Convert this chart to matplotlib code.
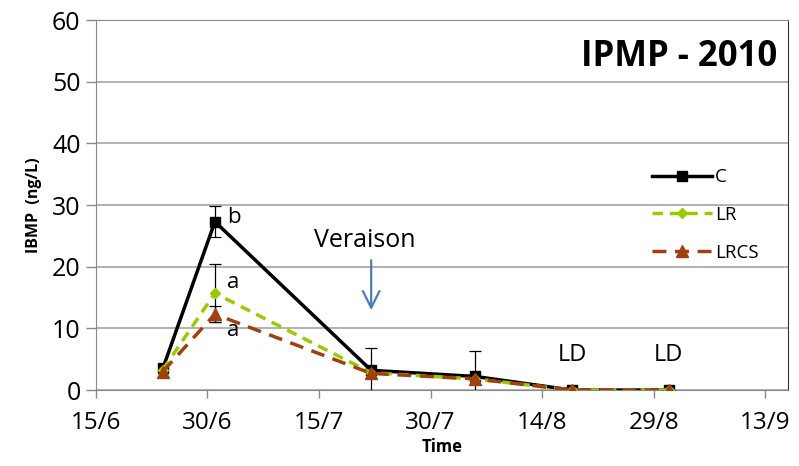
import matplotlib
matplotlib.use("Agg")
import matplotlib.pyplot as plt
import matplotlib.dates as mdates
import numpy as np
from datetime import datetime

# sampling dates (2010)
dates = ["2010-06-24", "2010-07-01", "2010-07-22", "2010-08-05", "2010-08-18", "2010-08-31"]
tick_dates = ["2010-06-15", "2010-06-30", "2010-07-15", "2010-07-30", "2010-08-14", "2010-08-29", "2010-09-13"]

c_vals = [3.5, 27.3, 3.2, 2.2, 0.0, 0.0]
c_err = [0.0, 2.5, 3.6, 4.2, 0.0, 0.0]
lr_vals = [3.3, 15.7, 2.8, 1.8, 0.0, 0.0]
lr_err = [0.0, 4.7, 0.0, 0.0, 0.0, 0.0]
lrcs_vals = [3.0, 12.3, 2.7, 1.8, 0.0, 0.0]
lrcs_err = [0.0, 1.3, 0.0, 0.0, 0.0, 0.0]

x = [datetime.strptime(d, "%Y-%m-%d") for d in dates]
xt = [datetime.strptime(d, "%Y-%m-%d") for d in tick_dates]

plt.rcParams['font.family'] = ['Open Sans', 'DejaVu Sans']

fig = plt.figure(figsize=(7.99, 4.66), dpi=100)
ax = fig.add_axes([0.120, 0.163, 0.866, 0.794])

ax.grid(axis='y', color='#a6a6a6', linewidth=1.2, zorder=0)
ax.set_axisbelow(True)

# error bars
for vals, err in [(c_vals, c_err), (lr_vals, lr_err), (lrcs_vals, lrcs_err)]:
    xe = [xi for xi, e in zip(x, err) if e > 0]
    ye = [v for v, e in zip(vals, err) if e > 0]
    ee = [e for e in err if e > 0]
    ax.errorbar(xe, ye, yerr=ee, fmt='none', ecolor='black', elinewidth=0.9,
                capsize=4, capthick=0.9, zorder=3)

ax.plot(x, c_vals, color='black', linewidth=2.5, marker='s', markersize=7,
        label='C', zorder=4)
ax.plot(x, lr_vals, color='#99cc00', linewidth=2.5, linestyle=(0, (3, 2)),
        marker='D', markersize=5, label='LR', zorder=5)
ax.plot(x, lrcs_vals, color='#a0410d', linewidth=2.5, linestyle=(0, (4, 2.5)),
        marker='^', markersize=9, label='LRCS', zorder=6)

ax.set_ylim(0, 60)
ax.set_yticks(np.arange(0, 61, 10))
ax.set_xlim(xt[0], datetime(2010, 9, 16))
ax.set_xticks(xt)
ax.xaxis.set_major_formatter(mdates.DateFormatter('%-d/%-m'))

ax.tick_params(axis='both', color='#888888', width=1)
ax.tick_params(axis='x', labelsize=17.5, length=6, pad=9)
ax.tick_params(axis='y', labelsize=18, length=7, pad=4)
for s in ax.spines.values():
    s.set_color('#888888')
ax.spines['right'].set_color('#333333')

ax.set_xlabel('Time', fontsize=12, fontweight='bold', labelpad=2)
ax.set_ylabel('IBMP  (ng/L)', fontsize=11.5, fontweight='bold', labelpad=7)

# annotations
bx = x[1] + (x[2] - x[1]) * 0.08
ax.text(bx, 28.0, 'b', fontsize=16, va='center')
ax.text(bx, 17.5, 'a', fontsize=16, va='center')
ax.text(bx, 9.7, 'a', fontsize=16, va='center')
ax.text(x[2] - (x[2] - x[1]) * 0.04, 24.3, 'Veraison', fontsize=18,
        ha='center', va='center')
ax.annotate('', xy=(x[2], 12.5), xytext=(x[2], 21.5),
            arrowprops=dict(arrowstyle='->', color='#4a7ebb', lw=1.6,
                            mutation_scale=30))
ax.text(x[4], 5.7, 'LD', fontsize=17, ha='center', va='center')
ax.text(x[5], 5.7, 'LD', fontsize=17, ha='center', va='center')
ax.text(0.985, 0.9, 'IPMP - 2010', transform=ax.transAxes, fontsize=25,
        fontweight='bold', ha='right', va='center')

ax.legend(loc='upper left', bbox_to_anchor=(0.79, 0.625), frameon=False,
          fontsize=13.5, handlelength=3.2, labelspacing=1.05, handletextpad=0.15,
          borderpad=0)

fig.savefig('out.png', dpi=100)
